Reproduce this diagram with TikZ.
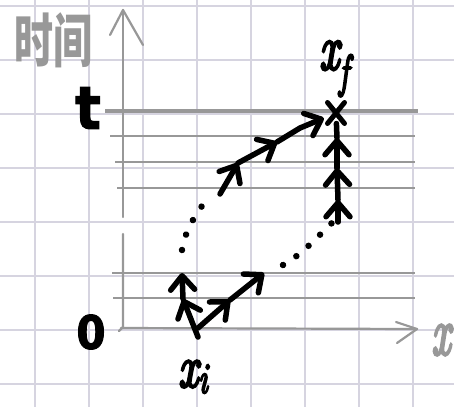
\documentclass[tikz,border=0pt]{standalone}
\usepackage{fontspec}
\newfontfamily\cjk{Noto Sans CJK SC}
\newfontfamily\hand[FakeBold=5]{Latin Modern Roman}
\newfontfamily\handsans[FakeBold=2]{DejaVu Sans}
\usetikzlibrary{arrows.meta,shapes.misc}
\definecolor{gridc}{RGB}{214,212,224}
\definecolor{axisc}{RGB}{152,152,152}
\tikzset{
  gridline/.style={draw=gridc, line width=1.4pt},
  axisline/.style={draw=axisc, line width=2.2pt, line cap=round, line join=round},
  slice/.style={draw=axisc, line width=1.8pt},
  tslice/.style={draw=axisc, line width=3.4pt},
  pathseg/.style={draw=black, line width=5.5pt, line cap=round, line join=round},
  arr/.style={pathseg, -{Straight Barb[length=14pt 0, width=24pt 0, round]}},
  dotline/.style={draw=black, line width=6.5pt, line cap=round, dash pattern=on 0.01pt off 16pt},
  hand/.style={text=black, inner sep=0pt},
  xmark/.style={draw=black, cross out, line width=5pt, line cap=round, minimum width=12pt, minimum height=16pt, inner sep=0pt},
}
\begin{document}
\begin{tikzpicture}[x=1pt, y=-1pt]
\useasboundingbox (0,0) rectangle (454,407);
\fill[white] (0,0) rectangle (454,407);
% grid paper
\foreach \gx in {35,89,143,197,251,305,359,413} \draw[gridline] (\gx,0) -- (\gx,407);
\foreach \gy in {6,60,114,168,222,276,330,384} \draw[gridline] (0,\gy) -- (454,\gy);
% time slices
\draw[tslice] (105,111) -- (418,111);
\draw[slice] (110,136) -- (415,136);
\draw[slice] (115,162) -- (415,162);
\draw[slice] (117,188) -- (415,188);
\draw[slice] (112,273) -- (415,273);
\draw[slice] (113,298) -- (415,298);
% axes
\coordinate (ttip) at (123,10);
\coordinate (xtip) at (417,329);
\draw[axisline] (123,217) -- (ttip);
\draw[axisline] (110,35) -- (ttip) -- (143,45);
\draw[axisline] (123,234) -- (123,327) -- (119,331);
\draw[axisline] (121,328) -- (xtip);
\draw[axisline] (396,322) -- (xtip) -- (397,343);
% labels
\node[text=axisc, inner sep=0pt] (tlab) at (53,40) {\scalebox{1}[1.5]{\cjk\fontsize{39}{39}\selectfont\bfseries 时间}};
\node[text=axisc, inner sep=0pt] (xlab) at (441,340) {\scalebox{1}[1.6]{\hand\fontsize{42}{42}\selectfont\itshape x}};
\node[hand] (t) at (88,108) {\scalebox{1}[1.1]{\handsans\bfseries\fontsize{54}{54}\selectfont t}};
\node[hand] (zero) at (91,332) {\scalebox{1}[1.1]{\handsans\bfseries\fontsize{42}{42}\selectfont 0}};
\node[hand] (xf) at (334,69) {\scalebox{1}[1.45]{\hand\fontsize{44}{44}\selectfont\itshape x\raisebox{-0.28em}{\fontsize{32}{32}\selectfont f}}};
\node[hand] (xi) at (193,377) {\scalebox{1}[1.35]{\hand\fontsize{44}{44}\selectfont\itshape x\raisebox{-0.1em}{\fontsize{32}{32}\selectfont i}}};
% points of the paths
\node[xmark] (xfpt) at (336,113) {};
\coordinate (S) at (198,337);
\coordinate (R0) at (198,328);
\coordinate (L1) at (183,299);
\coordinate (L2) at (182,273);
\coordinate (LD0) at (182,250);
\coordinate (LD1) at (205,202);
\coordinate (U0) at (220,194);
\coordinate (U1) at (238,163);
\coordinate (U2) at (277,142);
\coordinate (U3) at (300,128);
\coordinate (R1) at (230,300);
\coordinate (R2) at (264,273);
\coordinate (RD0) at (283,265);
\coordinate (RD1) at (334,221);
\coordinate (V0) at (338,222);
\coordinate (V1) at (338,200);
\coordinate (V2) at (337,168);
\coordinate (V3) at (337,138);
% left / upper path
\draw[arr] (S) -- (L1);
\draw[arr] (L1) -- (L2);
\draw[dotline] (LD0) .. controls (184,234) and (194,216) .. (LD1);
\draw[arr] (U0) -- (U1);
\draw[arr] (U1) -- (U2);
\draw[arr, shorten >=4pt] (U2) -- (U3) -- (xfpt);
% right / lower path
\draw[arr] (R0) -- (R1);
\draw[arr] (R1) -- (R2);
\draw[dotline] (RD0) .. controls (303,254) and (320,234) .. (RD1);
\draw[arr] (V0) -- (V1);
\draw[arr] (V1) -- (V2);
\draw[arr] (V2) -- (V3);
\draw[pathseg] (V3) -- (xfpt);
\end{tikzpicture}
\end{document}
